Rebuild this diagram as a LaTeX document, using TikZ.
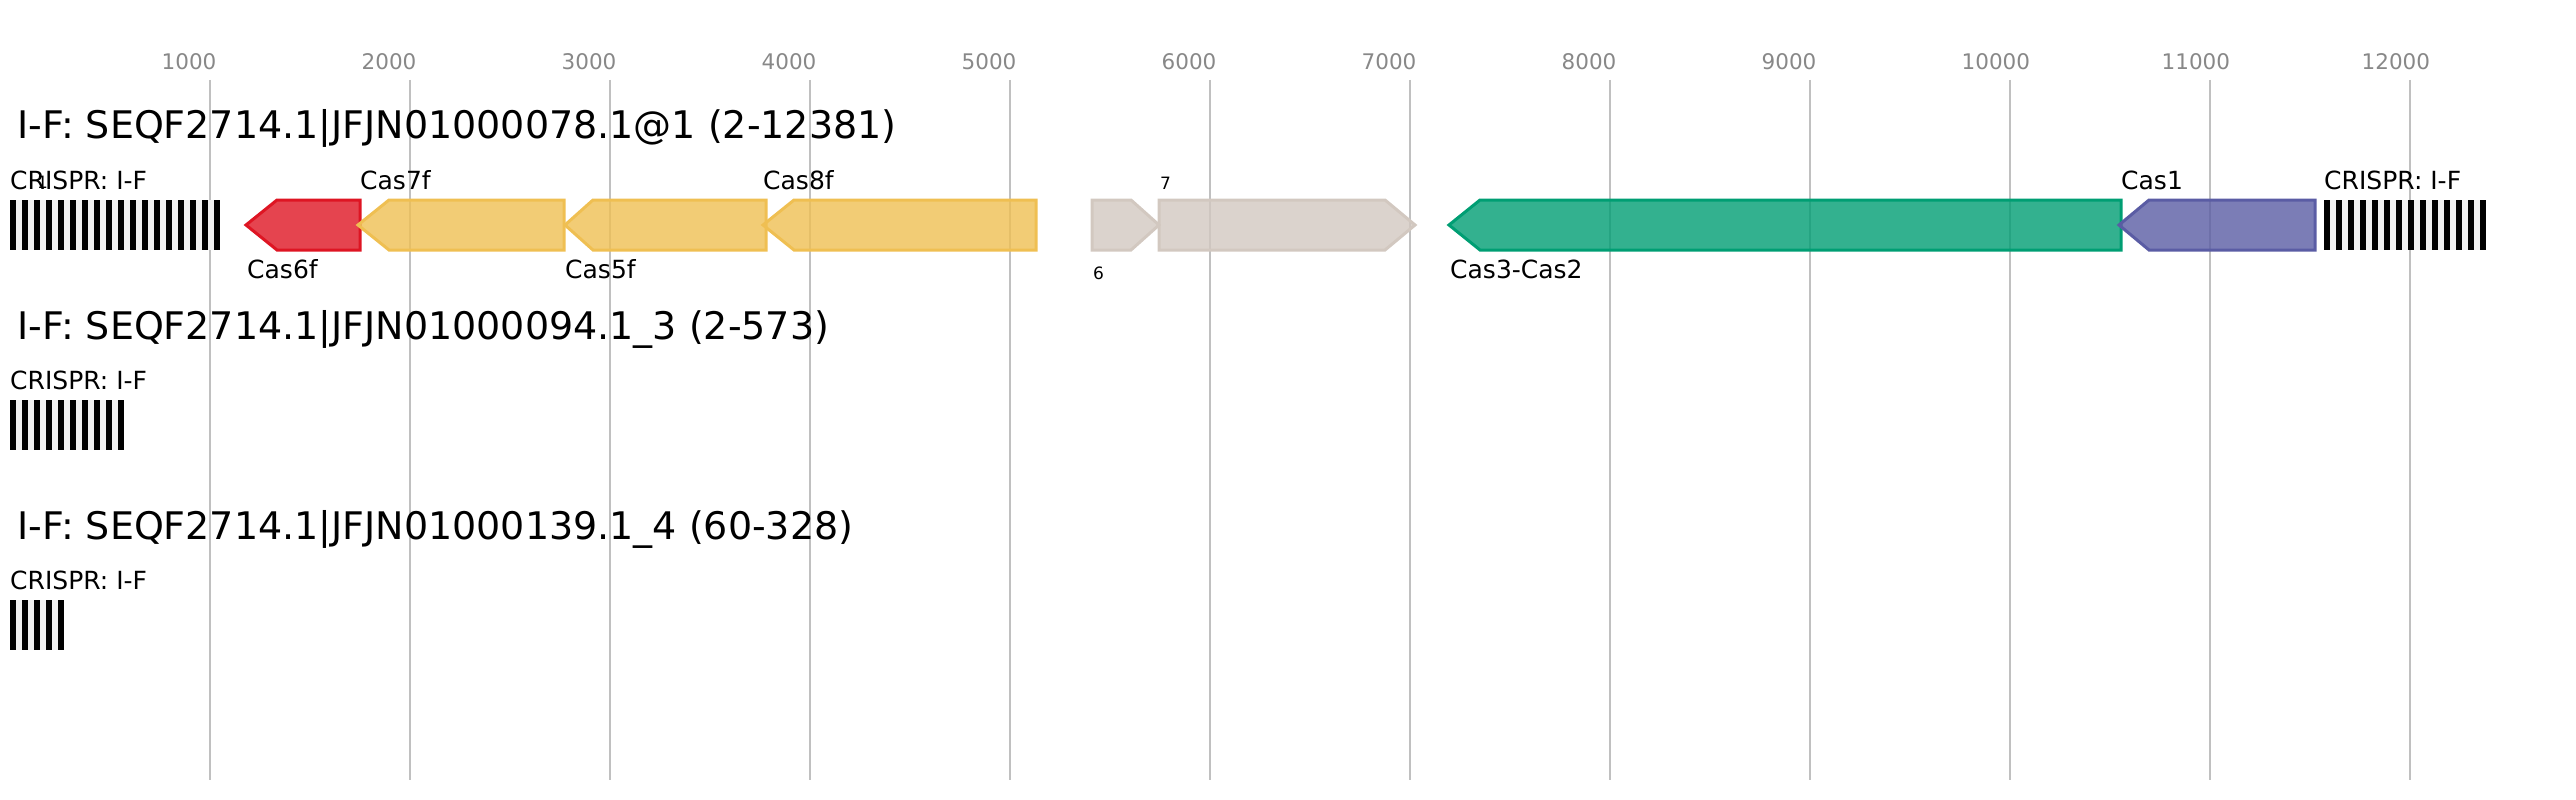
\documentclass[tikz,border=0pt]{standalone}
\usepackage{fontspec}
\setmainfont{DejaVu Sans}
\usepackage{tikz}

\definecolor{cas6col}{RGB}{222,21,35}
\definecolor{cas578col}{RGB}{239,191,82}
\definecolor{unkcol}{RGB}{210,200,192}
\definecolor{cas3col}{RGB}{0,158,115}
\definecolor{cas1col}{RGB}{90,92,164}
\definecolor{gridcol}{RGB}{192,192,192}
\definecolor{tickcol}{RGB}{136,136,136}
\definecolor{spacercol}{RGB}{240,240,240}

\begin{document}
\begin{tikzpicture}[x=1pt, y=-1pt,
    gene/.style={line width=3pt, fill opacity=0.8},
    title/.style={anchor=base west, inner sep=0pt, font=\fontsize{38}{44}\selectfont},
    glabel/.style={anchor=base west, inner sep=0pt, font=\fontsize{25}{30}\selectfont},
    small/.style={anchor=base west, inner sep=0pt, font=\fontsize{17}{20}\selectfont},
    tick/.style={anchor=base west, inner sep=0pt, text=tickcol, font=\fontsize{21.5}{26}\selectfont}]
      \useasboundingbox (0,0) rectangle (2576,800);

      % scale: grid every 1000 bp
      \foreach \k in {1,...,12} {
        \draw[gridcol, line width=2pt] ({9.5+200*\k},80) -- ({9.5+200*\k},780);
        \node[tick] (tick\k) at ({9.5+200*\k-48},70) {\the\numexpr\k*1000\relax};
      }

      % CRISPR arrays
      \foreach \x/\y/\n in {10/200/17, 2324/200/13, 10/400/9, 10/600/4} {
        \fill[spacercol] (\x,\y) rectangle ({\x+12*\n+6},\y+50);
        \foreach \i in {0,...,\n}
          \fill[black] ({\x+12*\i},\y) rectangle ++(6,50);
      }

      % genes pointing left
      \foreach \t/\s/\e/\c in {246/277/360/cas6col, 358/389/564/cas578col,
          565/593/766/cas578col, 763/794/1036/cas578col,
          1449/1480/2121/cas3col, 2119/2149/2315/cas1col} {
        \draw[gene, draw=\c, fill=\c] (\t,225) -- (\s,200) -- (\e,200) -- (\e,250) -- (\s,250) -- cycle;
      }
      % genes pointing right
      \foreach \s/\e/\t in {1092/1131/1159, 1159/1385/1415} {
        \draw[gene, draw=unkcol, fill=unkcol] (\s,200) -- (\e,200) -- (\t,225) -- (\e,250) -- (\s,250) -- cycle;
      }

      % row 1
      \node[title] (title1) at (17,138) {I-F: SEQF2714.1|JFJN01000078.1@1 (2-12381)};
      \node[glabel] (crispr1a) at (10,189) {CRISPR: I-F};
      \node[small] (lab1) at (37,188) {1};
      \node[glabel] (cas6f) at (247,278) {Cas6f};
      \node[glabel] (cas7f) at (360,189) {Cas7f};
      \node[glabel] (cas5f) at (565,278) {Cas5f};
      \node[glabel] (cas8f) at (763,189) {Cas8f};
      \node[small] (lab6) at (1093,279) {6};
      \node[small] (lab7) at (1160,189) {7};
      \node[glabel] (cas3) at (1450,278) {Cas3-Cas2};
      \node[glabel] (cas1) at (2121,189) {Cas1};
      \node[glabel] (crispr1b) at (2324,189) {CRISPR: I-F};

      % row 2
      \node[title] (title2) at (17,339) {I-F: SEQF2714.1|JFJN01000094.1\_3 (2-573)};
      \node[glabel] (crispr2) at (10,389) {CRISPR: I-F};

      % row 3
      \node[title] (title3) at (17,539) {I-F: SEQF2714.1|JFJN01000139.1\_4 (60-328)};
      \node[glabel] (crispr3) at (10,589) {CRISPR: I-F};
    \end{tikzpicture}
\end{document}
